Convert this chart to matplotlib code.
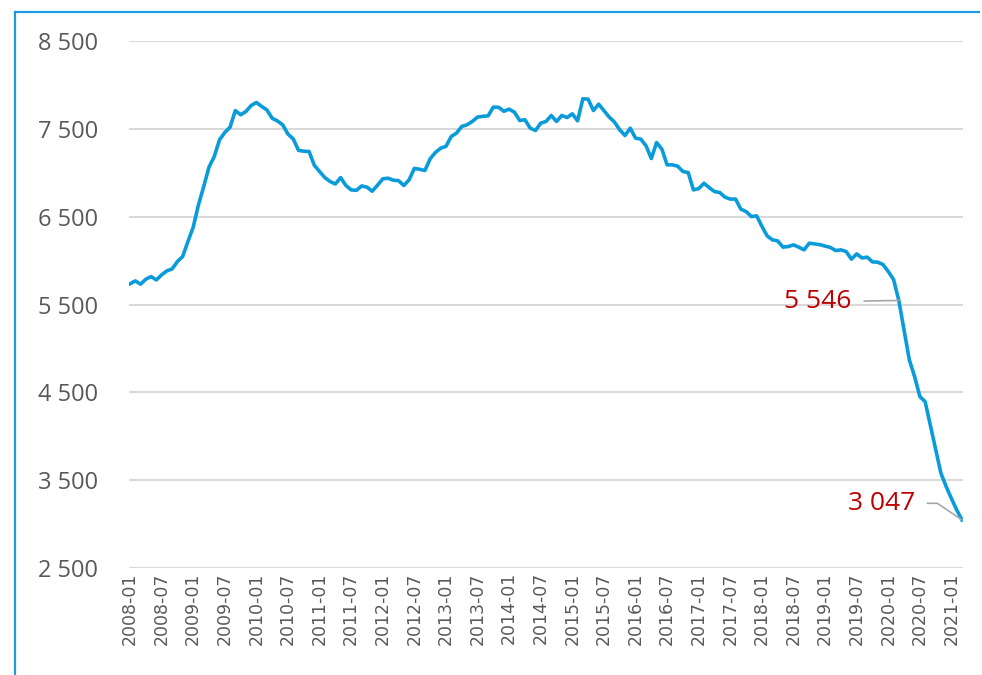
import matplotlib
matplotlib.use("Agg")
import matplotlib.pyplot as plt
from matplotlib.lines import Line2D

# ---- data ----
start_year, start_month = 2008, 1
values = [
    5735, 5769, 5731, 5788, 5818, 5780, 5837, 5883, 5905, 5989,
    6046, 6217, 6380, 6635, 6843, 7064, 7185, 7375, 7458, 7519,
    7708, 7660, 7697, 7765, 7800, 7755, 7715, 7620, 7590, 7545,
    7440, 7385, 7255, 7245, 7242, 7085, 7014, 6945, 6900, 6872,
    6945, 6855, 6805, 6800, 6850, 6836, 6790, 6858, 6930, 6938,
    6915, 6910, 6855, 6919, 7050, 7040, 7025, 7159, 7231, 7280,
    7300, 7413, 7451, 7527, 7546, 7584, 7634, 7642, 7648, 7747,
    7745, 7700, 7724, 7690, 7595, 7603, 7508, 7481, 7565, 7584,
    7652, 7584, 7652, 7629, 7671, 7591, 7842, 7838, 7708, 7781,
    7708, 7634, 7577, 7489, 7424, 7508, 7394, 7383, 7306, 7162,
    7344, 7269, 7090, 7090, 7075, 7014, 7002, 6805, 6820, 6880,
    6830, 6786, 6775, 6722, 6700, 6700, 6586, 6558, 6501, 6509,
    6390, 6281, 6236, 6224, 6153, 6160, 6179, 6153, 6122, 6198,
    6190, 6182, 6165, 6150, 6114, 6122, 6103, 6016, 6076, 6030,
    6039, 5985, 5982, 5955, 5875, 5785, 5546, 5210, 4869, 4679,
    4451, 4394, 4122, 3850, 3578, 3426, 3290, 3161, 3047,
]
months = []
for k in range(len(values)):
    y = start_year + (start_month - 1 + k) // 12
    m = (start_month - 1 + k) % 12 + 1
    months.append(f"{y}-{m:02d}")

y_ticks = [2500, 3500, 4500, 5500, 6500, 7500, 8500]
y_tick_labels = ["2 500", "3 500", "4 500", "5 500", "6 500", "7 500", "8 500"]
annot_idx = [146, 158]
annot_labels = ["5 546", "3 047"]

# ---- figure ----
W, H = 982, 675
fig = plt.figure(figsize=(W / 100, H / 100), dpi=100)
ax = fig.add_axes([129 / W, 1 - 568 / H, (963 - 129) / W, (568 - 41) / H])

x = list(range(len(values)))
ax.plot(x, values, color="#0A9BDB", lw=2.6, solid_joinstyle="round", zorder=3)

ax.set_ylim(2500, 8500)
ax.set_xlim(-0.19, len(values) - 1 + 0.19)
ax.set_yticks(y_ticks)
ax.set_yticklabels(y_tick_labels, fontfamily="Open Sans", fontsize=17, color="#595959")
ax.set_xticks(x[::6])
ax.set_xticklabels(months[::6], rotation=90, fontfamily="DejaVu Sans",
                   fontsize=12.5, color="#595959")
ax.tick_params(axis="y", length=0, pad=22)
ax.tick_params(axis="x", length=0, pad=3)
ax.grid(axis="y", color="#D9D9D9", lw=1.5, zorder=0)
for s in ax.spines.values():
    s.set_visible(False)

# annotations
ax.annotate(annot_labels[0], xy=(annot_idx[0], values[annot_idx[0]]),
            xytext=(-34, -1), textcoords="offset points",
            ha="right", va="center", fontfamily="Open Sans", fontsize=19,
            color="#C00000",
            arrowprops=dict(arrowstyle="-", color="#A6A6A6", lw=1.2,
                            shrinkA=7, shrinkB=0))
ax.annotate(annot_labels[1], xy=(annot_idx[1], values[annot_idx[1]]),
            xytext=(-34, 12), textcoords="offset points",
            ha="right", va="center", fontfamily="Open Sans", fontsize=19,
            color="#C00000",
            arrowprops=dict(arrowstyle="-", color="#A6A6A6", lw=1.2,
                            shrinkA=7, shrinkB=0,
                            connectionstyle="angle,angleA=0,angleB=-34,rad=0"))

# outer frame (left + top)
frame_color = "#1E9BE0"
fig.add_artist(Line2D([14.5 / W, 14.5 / W], [0, 1 - 11.5 / H], transform=fig.transFigure,
                      color=frame_color, lw=1.6))
fig.add_artist(Line2D([14.5 / W, 978.5 / W], [1 - 11.5 / H, 1 - 11.5 / H],
                      transform=fig.transFigure, color=frame_color, lw=1.6))

fig.savefig("out.png", dpi=100)
